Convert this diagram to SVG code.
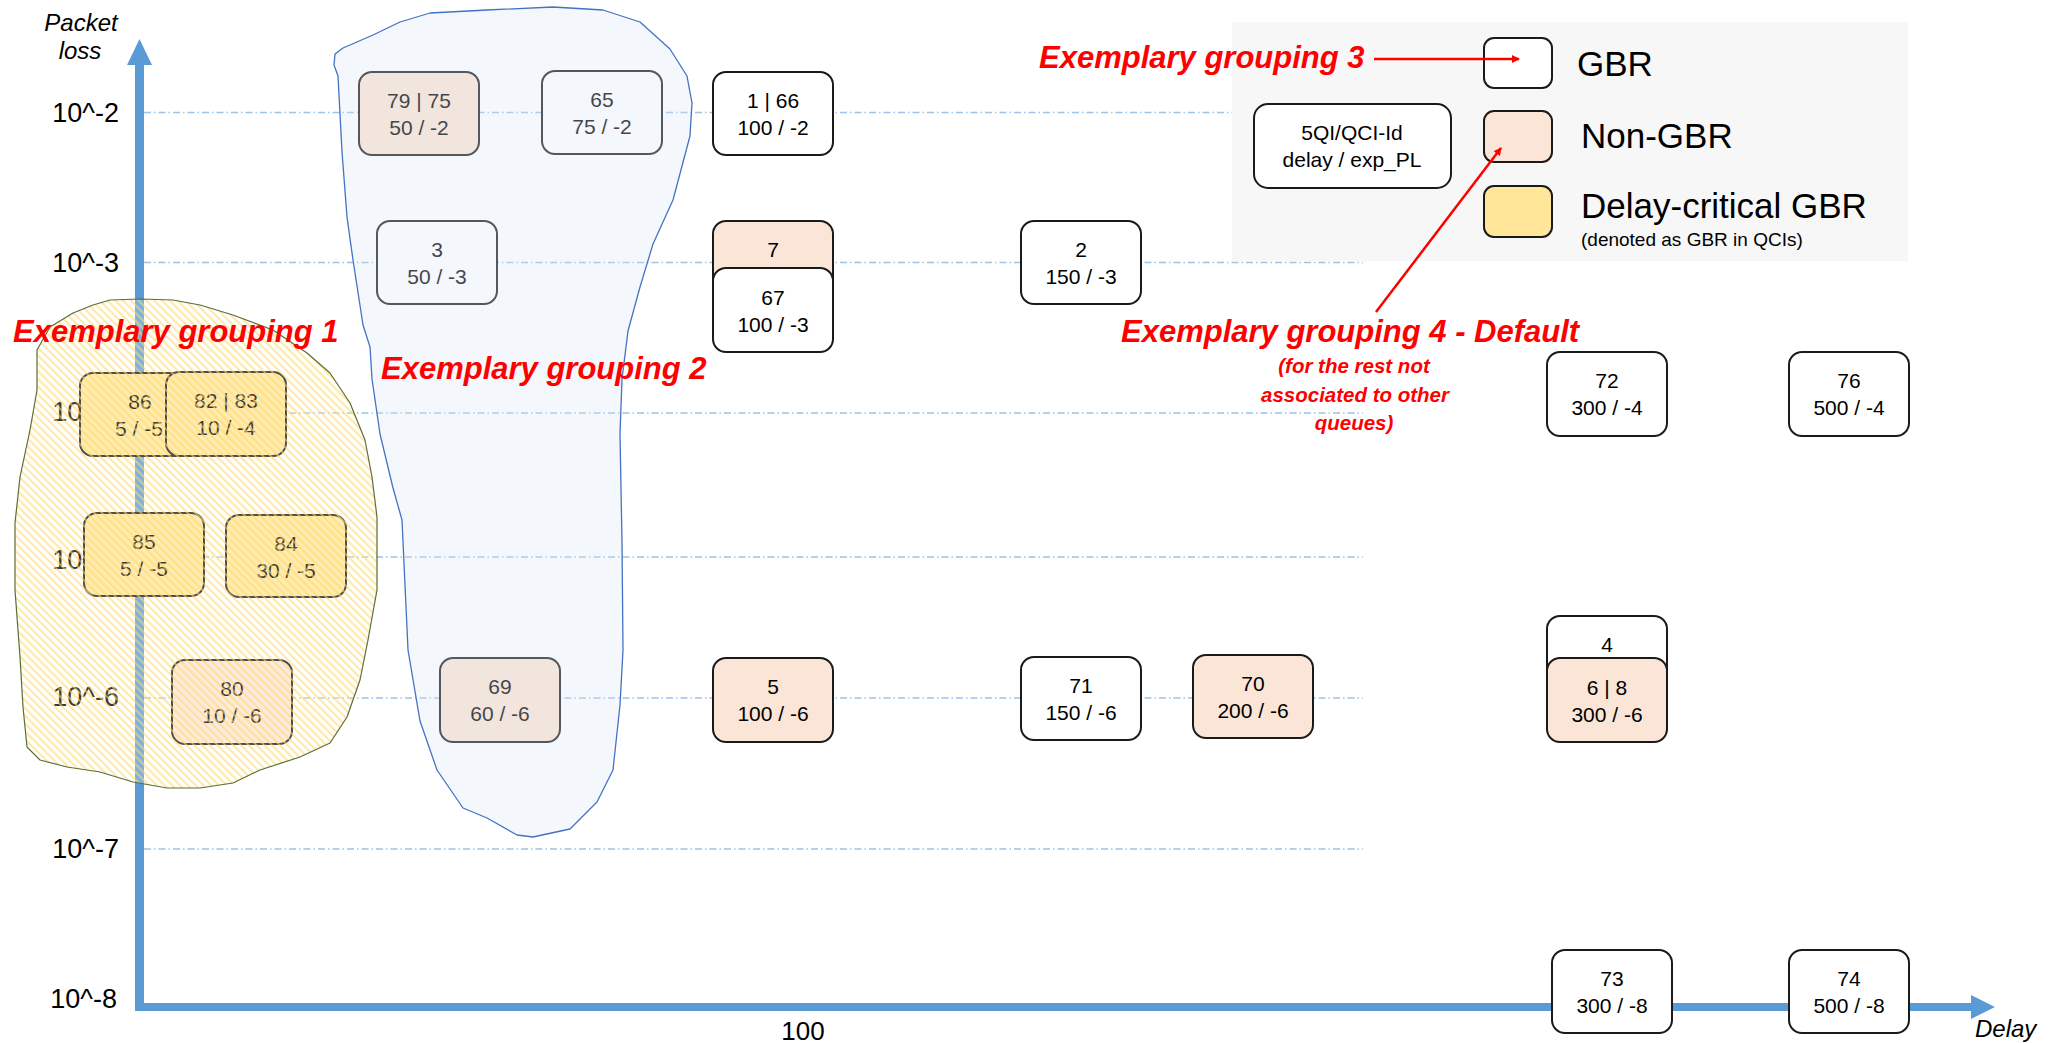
<svg xmlns="http://www.w3.org/2000/svg" width="2051" height="1043" viewBox="0 0 2051 1043">
<defs>
<style>
.f{font-family:"Liberation Sans",Arial,sans-serif}
.nr{stroke:#1a1a1a;stroke-width:2}
.gbr{fill:#ffffff}
.ngbr{fill:#FBE5D6}
.dc{fill:#FFE699}
.nt{font-family:"Liberation Sans",Arial,sans-serif;font-size:21px;text-anchor:middle;fill:#000}
.grid{stroke:#9DC3E6;stroke-width:1.4;stroke-dasharray:7 3 1.5 3;fill:none}
.yl{font-family:"Liberation Sans",Arial,sans-serif;font-size:27px;text-anchor:end;fill:#000}
.red{font-family:"Liberation Sans",Arial,sans-serif;font-weight:bold;font-style:italic;font-size:31px;fill:#FF0000}
.reds{font-family:"Liberation Sans",Arial,sans-serif;font-weight:bold;font-style:italic;font-size:20.5px;fill:#FF0000;text-anchor:middle}
.axl{font-family:"Liberation Sans",Arial,sans-serif;font-style:italic;font-size:24px;fill:#000}
.leg{font-family:"Liberation Sans",Arial,sans-serif;font-size:35px;fill:#000}
</style>
<pattern id="hatch" width="5.5" height="5.5" patternUnits="userSpaceOnUse" patternTransform="rotate(-45)">
<rect x="0" y="0" width="2" height="5.5" fill="#FFD966" fill-opacity="0.6"/>
</pattern>
<marker id="ra" markerWidth="8" markerHeight="8" refX="7" refY="4" orient="auto" markerUnits="userSpaceOnUse" viewBox="0 0 8 8">
<path d="M0,0 L8,4 L0,8 Z" fill="#FF0000"/>
</marker>
</defs>
<rect width="2051" height="1043" fill="#ffffff"/>

<g id="gridlines">
<line class="grid" x1="144" y1="112.5" x2="1363" y2="112.5"/>
<line class="grid" x1="144" y1="262.5" x2="1363" y2="262.5"/>
<line class="grid" x1="144" y1="413" x2="1363" y2="413"/>
<line class="grid" x1="144" y1="557" x2="1363" y2="557"/>
<line class="grid" x1="144" y1="698" x2="1363" y2="698"/>
<line class="grid" x1="144" y1="849" x2="1363" y2="849"/>
</g>

<g id="ylabels">
<text class="yl" x="119" y="122">10^-2</text>
<text class="yl" x="119" y="272">10^-3</text>
<text class="yl" x="119" y="421">10^-4</text>
<text class="yl" x="119" y="569">10^-5</text>
<text class="yl" x="119" y="706">10^-6</text>
<text class="yl" x="119" y="858">10^-7</text>
<text class="yl" x="117" y="1008">10^-8</text>
</g>

<g id="axes">
<line x1="139.5" y1="62" x2="139.5" y2="1011" stroke="#5B9BD5" stroke-width="9"/>
<path d="M127,65 L139.5,39 L152,65 Z" fill="#5B9BD5"/>
<line x1="135" y1="1007" x2="1973" y2="1007" stroke="#5B9BD5" stroke-width="8"/>
<path d="M1971,995 L1995,1007 L1971,1019 Z" fill="#5B9BD5"/>
<text class="axl" x="81" y="31" text-anchor="middle">Packet</text>
<text class="axl" x="80" y="59" text-anchor="middle">loss</text>
<text class="axl" x="1975" y="1037">Delay</text>
<text class="f" x="803" y="1040" font-size="26" text-anchor="middle">100</text>
</g>

<g id="n79_75"><rect class="nr ngbr" x="359" y="72" width="120" height="83" rx="13"/><text class="nt" x="419" y="108">79 | 75</text><text class="nt" x="419" y="135">50 / -2</text></g>
<g id="n65"><rect class="nr gbr" x="542" y="71" width="120" height="83" rx="13"/><text class="nt" x="602" y="107">65</text><text class="nt" x="602" y="134">75 / -2</text></g>
<g id="n1_66"><rect class="nr gbr" x="713" y="72" width="120" height="83" rx="13"/><text class="nt" x="773" y="108">1 | 66</text><text class="nt" x="773" y="135">100 / -2</text></g>
<g id="n3"><rect class="nr gbr" x="377" y="221" width="120" height="83" rx="13"/><text class="nt" x="437" y="257">3</text><text class="nt" x="437" y="284">50 / -3</text></g>
<g id="n7"><rect class="nr ngbr" x="713" y="221" width="120" height="83" rx="13"/><text class="nt" x="773" y="257">7</text></g>
<g id="n67"><rect class="nr gbr" x="713" y="268" width="120" height="84" rx="13"/><text class="nt" x="773" y="305">67</text><text class="nt" x="773" y="332">100 / -3</text></g>
<g id="n2"><rect class="nr gbr" x="1021" y="221" width="120" height="83" rx="13"/><text class="nt" x="1081" y="257">2</text><text class="nt" x="1081" y="284">150 / -3</text></g>
<g id="n86"><rect class="nr dc" x="80" y="373" width="120" height="83" rx="13"/><text class="nt" x="140" y="409">86</text><text class="nt" x="139" y="436">5 / -5</text></g>
<g id="n82_83"><rect class="nr dc" x="166" y="372" width="120" height="84" rx="13"/><text class="nt" x="226" y="408">82 | 83</text><text class="nt" x="226" y="435">10 / -4</text></g>
<g id="n72"><rect class="nr gbr" x="1547" y="352" width="120" height="84" rx="13"/><text class="nt" x="1607" y="388">72</text><text class="nt" x="1607" y="415">300 / -4</text></g>
<g id="n76"><rect class="nr gbr" x="1789" y="352" width="120" height="84" rx="13"/><text class="nt" x="1849" y="388">76</text><text class="nt" x="1849" y="415">500 / -4</text></g>
<g id="n85"><rect class="nr dc" x="84" y="513" width="120" height="83" rx="13"/><text class="nt" x="144" y="549">85</text><text class="nt" x="144" y="576">5 / -5</text></g>
<g id="n84"><rect class="nr dc" x="226" y="515" width="120" height="82" rx="13"/><text class="nt" x="286" y="551">84</text><text class="nt" x="286" y="578">30 / -5</text></g>
<g id="n80"><rect class="nr ngbr" x="172" y="660" width="120" height="84" rx="13"/><text class="nt" x="232" y="696">80</text><text class="nt" x="232" y="723">10 / -6</text></g>
<g id="n69"><rect class="nr ngbr" x="440" y="658" width="120" height="84" rx="13"/><text class="nt" x="500" y="694">69</text><text class="nt" x="500" y="721">60 / -6</text></g>
<g id="n5"><rect class="nr ngbr" x="713" y="658" width="120" height="84" rx="13"/><text class="nt" x="773" y="694">5</text><text class="nt" x="773" y="721">100 / -6</text></g>
<g id="n71"><rect class="nr gbr" x="1021" y="657" width="120" height="83" rx="13"/><text class="nt" x="1081" y="693">71</text><text class="nt" x="1081" y="720">150 / -6</text></g>
<g id="n70"><rect class="nr ngbr" x="1193" y="655" width="120" height="83" rx="13"/><text class="nt" x="1253" y="691">70</text><text class="nt" x="1253" y="718">200 / -6</text></g>
<g id="n4"><rect class="nr gbr" x="1547" y="616" width="120" height="83" rx="13"/><text class="nt" x="1607" y="652">4</text></g>
<g id="n6_8"><rect class="nr ngbr" x="1547" y="658" width="120" height="84" rx="13"/><text class="nt" x="1607" y="695">6 | 8</text><text class="nt" x="1607" y="722">300 / -6</text></g>
<g id="n73"><rect class="nr gbr" x="1552" y="950" width="120" height="83" rx="13"/><text class="nt" x="1612" y="986">73</text><text class="nt" x="1612" y="1013">300 / -8</text></g>
<g id="n74"><rect class="nr gbr" x="1789" y="950" width="120" height="83" rx="13"/><text class="nt" x="1849" y="986">74</text><text class="nt" x="1849" y="1013">500 / -8</text></g>

<g id="grouping1">
<path d="M110,300 L140,299 L173,300 L200,305 L233,315 L273,330 L307,353 L330,373 L350,403 L365,440 L372,477 L377,517 L377,590 L368,640 L360,680 L347,717 L330,743 L300,757 L260,770 L233,783 L200,788 L167,788 L133,782 L100,772 L67,767 L40,760 L27,747 L23,707 L20,657 L15,590 L15,523 L20,477 L30,430 L37,390 L37,350 L50,327 L73,313 L93,305 Z" fill="#ffffff" fill-opacity="0.22" stroke="none"/>
<path d="M110,300 L140,299 L173,300 L200,305 L233,315 L273,330 L307,353 L330,373 L350,403 L365,440 L372,477 L377,517 L377,590 L368,640 L360,680 L347,717 L330,743 L300,757 L260,770 L233,783 L200,788 L167,788 L133,782 L100,772 L67,767 L40,760 L27,747 L23,707 L20,657 L15,590 L15,523 L20,477 L30,430 L37,390 L37,350 L50,327 L73,313 L93,305 Z" fill="url(#hatch)" stroke="#5B6E35" stroke-width="1.2" stroke-linejoin="round"/>
<text class="red" x="13" y="342">Exemplary grouping 1</text>
</g>

<g id="grouping2">
<path d="M335,54 L343,48 L373,35 L400,22 L430,13 L487,10 L553,7 L603,10 L640,22 L670,49 L687,76 L692,103 L690,136 L673,200 L653,244 L640,287 L628,331 L622,379 L620,434 L622,542 L623,650 L620,705 L613,770 L597,802 L570,829 L533,837 L517,835 L487,818 L463,808 L437,770 L420,721 L408,650 L403,542 L402,520 L393,488 L380,434 L372,379 L370,347 L363,325 L353,260 L347,217 L342,152 L338,76 L334,65 Z" fill="#DAE3F3" fill-opacity="0.3" stroke="#4472C4" stroke-width="1.3" stroke-linejoin="round"/>
<text class="red" x="381" y="379">Exemplary grouping 2</text>
</g>

<g id="legend">
<rect x="1232" y="22" width="676" height="239" fill="#F7F7F7"/>
<rect class="nr gbr" x="1254" y="104" width="197" height="84" rx="14"/>
<text class="nt" x="1352" y="140" font-size="21.5">5QI/QCI-Id</text>
<text class="nt" x="1352" y="167" font-size="21.5">delay / exp_PL</text>
<rect class="nr gbr" x="1484" y="38" width="68" height="50" rx="10"/>
<rect class="nr ngbr" x="1484" y="111" width="68" height="51" rx="10"/>
<rect class="nr dc" x="1484" y="186" width="68" height="51" rx="10"/>
<text class="leg" x="1577" y="76">GBR</text>
<text class="leg" x="1581" y="148">Non-GBR</text>
<text class="leg" x="1581" y="218">Delay-critical GBR</text>
<text class="f" x="1581" y="246" font-size="19">(denoted as GBR in QCIs)</text>
</g>

<g id="grouping3">
<text class="red" x="1039" y="68">Exemplary grouping 3</text>
</g>

<g id="grouping4">
<text class="red" x="1121" y="342">Exemplary grouping 4 - Default</text>
<text class="reds" x="1354" y="373">(for the rest not</text>
<text class="reds" x="1355" y="402">associated to other</text>
<text class="reds" x="1354" y="430">queues)</text>
</g>

<g id="connectors">
<line x1="1374" y1="59" x2="1519" y2="59" stroke="#FF0000" stroke-width="2.5" marker-end="url(#ra)"/>
<line x1="1376" y1="312" x2="1501" y2="148" stroke="#FF0000" stroke-width="2.5" marker-end="url(#ra)"/>
</g>
</svg>
